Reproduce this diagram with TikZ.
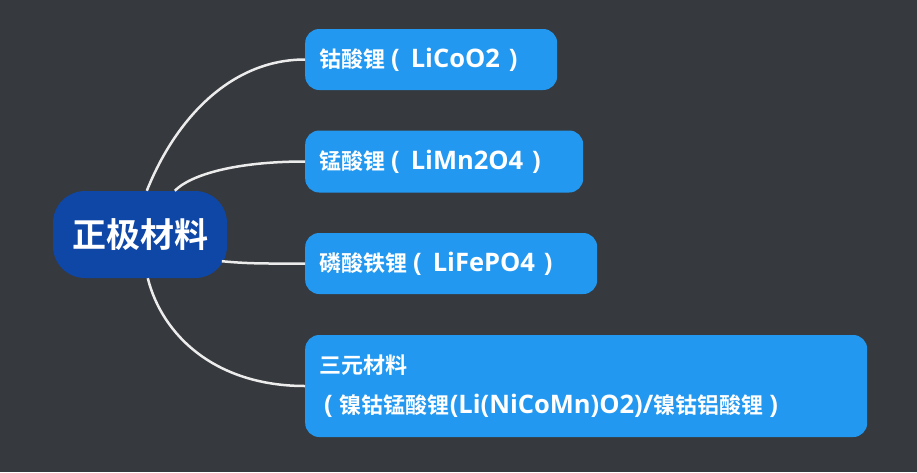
\documentclass[tikz,border=0pt]{standalone}
\usepackage{fontspec}
\setmainfont{Noto Sans CJK SC}[BoldFont={Noto Sans CJK SC Bold}]
\newfontfamily\latinfont{Open Sans}
\newcommand\latn[1]{{\latinfont\fontsize{25.5}{39}\selectfont #1}}
\newcommand\lpar{\hspace{6pt}\latn{(}\hspace{11pt}}
\newcommand\rpar{\hspace{9pt}\latn{)}}
\usetikzlibrary{calc}
\definecolor{bgcol}{HTML}{36393D}
\definecolor{rootblue}{HTML}{0F47A7}
\definecolor{leafblue}{HTML}{2298F1}
\definecolor{linecol}{HTML}{ECECEC}
\begin{document}
\begin{tikzpicture}[x=1pt,y=-1pt,
  rootbox/.style={fill=rootblue, rounded corners=32pt, text=white,
    font=\bfseries\fontsize{34}{40}\selectfont, minimum width=174pt,
    minimum height=87pt, inner sep=0pt},
  leafbox/.style={fill=leafblue, rounded corners=14pt, text=white,
    font=\bfseries\fontsize{22}{40}\selectfont, align=left,
    inner xsep=14pt, inner ysep=0pt, anchor=west},
  link/.style={draw=linecol, line width=2.5pt}]
\fill[bgcol] (0,0) rectangle (917,472);
\node[rootbox] (root) at (140,234.5) {正极材料};
\node[leafbox, text width=224pt, minimum height=61pt] (b1) at (305,59.5) {钴酸锂\lpar\latn{LiCoO2}\rpar};
\node[leafbox, text width=250pt, minimum height=62pt] (b2) at (305,161.5) {锰酸锂\lpar\latn{LiMn2O4}\rpar};
\node[leafbox, text width=264pt, minimum height=61pt] (b3) at (305,263.5) {磷酸铁锂\lpar\latn{LiFePO4}\rpar};
\node[leafbox, text width=534pt, minimum height=102pt] (b4) at (305,386) {三元材料\\\hspace{5pt}\latn{(}\hspace{7pt}镍钴锰酸锂\latn{(Li(NiCoMn)O2)/}镍钴铝酸锂\hspace{6pt}\latn{)}};
\coordinate (s1) at ($(root.north west)+(94,0)$);
\coordinate (s2) at ($(root.north west)+(122,0)$);
\coordinate (s3) at ($(root.south west)+(169,-17)$);
\coordinate (s4) at ($(root.south west)+(95,0)$);
\draw[link] (s1) .. controls (175,120) and (230,59.5) .. (b1.west);
\draw[link] (s2) .. controls (190,175) and (235,161.5) .. (b2.west);
\draw[link] (s3) .. controls (250,264) and (270,263.5) .. (b3.west);
\draw[link] (s4) .. controls (162,335) and (215,386) .. (b4.west);
\end{tikzpicture}
\end{document}
